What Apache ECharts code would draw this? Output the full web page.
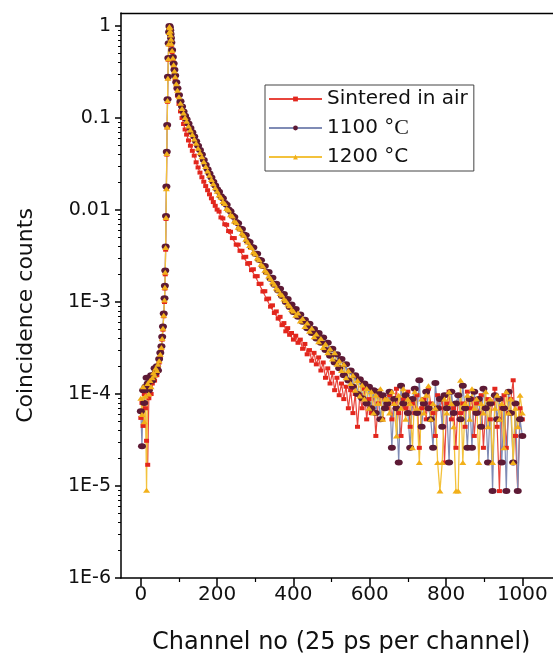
<!DOCTYPE html>
<html><head><meta charset="utf-8">
<script src="https://cdn.jsdelivr.net/npm/echarts@6/dist/echarts.min.js"></script>
<style>html,body{margin:0;padding:0;background:#fff;overflow:hidden}#c{width:553px;height:653px}</style>
</head><body><div id="c"></div>
<script>
// Channel numbers (x) shared by all three spectra
const channels = [0,3,6,9,12,15,18,21,24,27,30,33,36,39,42,45,48,51,54,56,58,60,62,63,
64,65,66,67,68,69,70,71,72,73,74,75,76,77,78,79,80,
82,84,86,88,90,93,96,100,104,108,112,116,120,125,130,135,140,145,150,155,160,165,170,175,180,185,190,195,200,
205,210,215,220,225,230,235,240,245,250,255,260,265,270,275,280,285,290,295,300,305,310,315,320,325,330,335,340,345,350,355,360,365,370,375,380,385,390,395,400,
406,412,418,424,430,436,442,448,454,460,466,472,478,484,490,496,502,508,514,520,526,532,538,544,550,556,562,568,574,580,586,592,598,604,610,616,622,628,634,640,
646,652,658,664,670,676,682,688,694,700,706,712,718,724,730,736,742,748,754,760,766,772,778,784,790,796,802,808,814,820,826,832,838,844,850,856,862,868,874,880,886,892,898,904,910,916,922,928,934,940,946,952,958,964,970,976,982,988,994,1000];

// Sintered in air
const sinteredInAir = [5.5e-5,8.0e-5,4.5e-5,1.0e-4,7.0e-5,3.1e-5,1.7e-5,9.0e-5,1.2e-4,1.0e-4,1.3e-4,1.5e-4,1.4e-4,1.7e-4,1.6e-4,1.9e-4,2.2e-4,2.6e-4,3.1e-4,3.9e-4,5.0e-4,7.0e-4,1.0e-3,1.4e-3,
2.0e-3,3.7e-3,8.0e-3,0.017,0.04,0.079,0.15,0.27,0.43,0.63,0.84,0.99,0.95,0.87,0.78,0.7,0.62,
0.52,0.43,0.36,0.3,0.255,0.21,0.175,0.142,0.118,0.1,0.086,0.075,0.066,0.057,0.05,0.044,0.039,0.033,0.029,0.0255,0.0227,0.0203,0.0182,0.0164,0.0148,0.0134,0.0122,0.0111,0.0101,
9.6e-3,8.3e-3,8.1e-3,7.0e-3,6.9e-3,5.9e-3,5.8e-3,4.95e-3,4.95e-3,4.2e-3,4.2e-3,3.6e-3,3.6e-3,3.05e-3,3.1e-3,2.6e-3,2.65e-3,2.22e-3,2.27e-3,1.9e-3,1.91e-3,1.57e-3,1.58e-3,1.3e-3,1.31e-3,1.07e-3,1.09e-3,8.9e-4,9.2e-4,7.6e-4,7.9e-4,6.6e-4,6.9e-4,5.6e-4,5.9e-4,4.8e-4,5.2e-4,4.4e-4,4.6e-4,3.9e-4,
4.3e-4,3.6e-4,3.9e-4,3.1e-4,3.5e-4,2.7e-4,3.0e-4,2.3e-4,2.8e-4,2.1e-4,2.5e-4,1.8e-4,2.2e-4,1.5e-4,1.9e-4,1.3e-4,1.7e-4,1.1e-4,1.5e-4,9.7e-5,1.3e-4,8.8e-5,1.2e-4,7.0e-5,1.1e-4,6.2e-5,1.0e-4,4.4e-5,9.7e-5,7.0e-5,1.14e-4,5.3e-5,8.8e-5,6.2e-5,1.06e-4,3.5e-5,7.9e-5,9.7e-5,5.3e-5,8.8e-5,
7.0e-5,9.7e-5,5.3e-5,7.9e-5,1.14e-4,6.2e-5,3.5e-5,8.8e-5,7.0e-5,1.06e-4,4.4e-5,7.9e-5,6.2e-5,9.7e-5,2.6e-5,7.0e-5,8.8e-5,5.3e-5,1.14e-4,7.9e-5,6.2e-5,3.5e-5,9.7e-5,7.0e-5,8.8e-5,1.8e-5,7.9e-5,1.06e-4,5.3e-5,7.0e-5,2.6e-5,9.7e-5,6.2e-5,7.9e-5,4.4e-5,1.06e-4,7.0e-5,8.8e-5,3.5e-5,7.9e-5,6.2e-5,9.7e-5,2.6e-5,7.0e-5,8.8e-5,5.3e-5,7.9e-5,1.14e-4,4.4e-5,8.8e-6,7.0e-5,9.7e-5,2.6e-5,6.2e-5,8.8e-5,1.41e-4,3.5e-5,8.8e-6,7.0e-5,5.3e-5];

// 1100 °C
const sample1100 = [6.5e-5,2.7e-5,1.1e-4,8.0e-5,1.2e-4,1.5e-4,1.3e-4,1.1e-4,1.5e-4,1.6e-4,1.4e-4,1.6e-4,1.9e-4,1.7e-4,2.0e-4,1.8e-4,2.4e-4,2.8e-4,3.3e-4,4.2e-4,5.4e-4,7.5e-4,1.1e-3,1.5e-3,
2.2e-3,4.0e-3,8.6e-3,0.018,0.043,0.084,0.16,0.28,0.45,0.65,0.86,1.0,0.97,0.9,0.82,0.74,0.66,
0.55,0.46,0.39,0.335,0.29,0.245,0.21,0.178,0.152,0.133,0.118,0.106,0.097,0.087,0.078,0.07,0.063,0.056,0.05,0.045,0.04,0.035,0.031,0.0278,0.025,0.0225,0.0203,0.0185,0.0168,
0.0158,0.0141,0.0134,0.0119,0.0114,0.0101,9.7e-3,8.7e-3,8.4e-3,7.4e-3,7.2e-3,6.3e-3,6.2e-3,5.4e-3,5.3e-3,4.6e-3,4.5e-3,3.95e-3,3.9e-3,3.35e-3,3.35e-3,2.88e-3,2.85e-3,2.46e-3,2.46e-3,2.1e-3,2.12e-3,1.79e-3,1.84e-3,1.54e-3,1.58e-3,1.33e-3,1.39e-3,1.16e-3,1.22e-3,1.0e-3,1.08e-3,8.8e-4,9.4e-4,7.8e-4,
8.4e-4,6.9e-4,7.3e-4,6.1e-4,6.4e-4,5.2e-4,5.8e-4,4.6e-4,5.1e-4,4.0e-4,4.6e-4,3.6e-4,4.1e-4,3.0e-4,3.6e-4,2.6e-4,3.1e-4,2.2e-4,2.7e-4,1.9e-4,2.4e-4,1.6e-4,2.1e-4,1.4e-4,1.8e-4,1.2e-4,1.6e-4,1.0e-4,1.45e-4,9.0e-5,1.3e-4,7.9e-5,1.2e-4,7.0e-5,1.1e-4,6.2e-5,1.06e-4,5.3e-5,9.7e-5,7.0e-5,
7.9e-5,1.06e-4,2.6e-5,8.8e-5,7.0e-5,1.8e-5,1.23e-4,7.9e-5,9.7e-5,6.2e-5,2.6e-5,8.8e-5,1.14e-4,6.2e-5,1.41e-4,4.4e-5,7.9e-5,1.06e-4,7.0e-5,5.3e-5,2.6e-5,1.32e-4,7.0e-5,8.8e-5,4.4e-5,9.7e-5,7.0e-5,1.8e-5,1.06e-4,6.2e-5,7.9e-5,9.7e-5,5.3e-5,1.23e-4,7.0e-5,2.6e-5,8.8e-5,2.6e-5,1.06e-4,6.2e-5,8.8e-5,4.4e-5,1.14e-4,7.0e-5,1.8e-5,7.9e-5,8.8e-6,9.7e-5,5.3e-5,8.8e-5,1.8e-5,7.0e-5,8.8e-6,1.06e-4,6.2e-5,1.8e-5,7.9e-5,8.8e-6,5.3e-5,3.5e-5];

// 1200 °C
const sample1200 = [9.0e-5,6.0e-5,1.2e-4,5.0e-5,9.5e-5,9.0e-6,1.3e-4,1.0e-4,1.4e-4,1.2e-4,1.5e-4,1.7e-4,1.6e-4,1.9e-4,1.8e-4,2.1e-4,2.3e-4,2.7e-4,3.2e-4,4.0e-4,5.2e-4,7.2e-4,1.05e-3,1.45e-3,
2.1e-3,3.9e-3,8.3e-3,0.017,0.041,0.08,0.155,0.27,0.44,0.64,0.85,0.99,0.96,0.88,0.8,0.72,0.64,
0.54,0.45,0.38,0.325,0.28,0.236,0.2,0.17,0.145,0.127,0.113,0.101,0.092,0.082,0.074,0.066,0.059,0.053,0.047,0.042,0.038,0.0335,0.0297,0.0265,0.0238,0.0214,0.0193,0.0175,0.016,
0.0146,0.0138,0.0124,0.0118,0.0104,0.0100,8.9e-3,8.6e-3,7.6e-3,7.3e-3,6.5e-3,6.2e-3,5.6e-3,5.3e-3,4.8e-3,4.5e-3,4.1e-3,3.9e-3,3.5e-3,3.35e-3,3.0e-3,2.88e-3,2.58e-3,2.46e-3,2.22e-3,2.1e-3,1.92e-3,1.8e-3,1.65e-3,1.56e-3,1.42e-3,1.35e-3,1.24e-3,1.19e-3,1.08e-3,1.04e-3,9.5e-4,9.1e-4,8.3e-4,8.0e-4,
7.2e-4,7.6e-4,6.2e-4,6.6e-4,5.4e-4,5.9e-4,4.8e-4,5.2e-4,4.2e-4,4.5e-4,3.7e-4,4.0e-4,3.2e-4,3.5e-4,2.8e-4,3.1e-4,2.4e-4,2.8e-4,2.1e-4,2.3e-4,1.8e-4,2.1e-4,1.5e-4,1.8e-4,1.3e-4,1.6e-4,1.1e-4,1.4e-4,9.5e-5,1.25e-4,8.8e-5,1.15e-4,7.0e-5,1.06e-4,6.2e-5,9.7e-5,7.9e-5,1.14e-4,5.3e-5,8.8e-5,
8.8e-5,6.2e-5,1.06e-4,7.9e-5,3.5e-5,9.7e-5,7.0e-5,1.14e-4,5.3e-5,8.8e-5,7.9e-5,2.6e-5,1.06e-4,7.0e-5,1.8e-5,8.8e-5,6.2e-5,9.7e-5,1.23e-4,5.3e-5,7.9e-5,7.0e-5,1.8e-5,8.8e-6,1.8e-5,8.8e-5,6.2e-5,1.06e-4,7.9e-5,4.4e-5,8.8e-6,8.8e-6,1.41e-4,1.8e-5,7.9e-5,9.7e-5,5.3e-5,1.14e-4,7.0e-5,8.8e-5,1.8e-5,7.9e-5,6.2e-5,1.06e-4,4.4e-5,8.8e-5,1.8e-5,7.0e-5,9.7e-5,5.3e-5,7.9e-5,2.6e-5,1.06e-4,6.2e-5,8.8e-5,1.8e-5,7.0e-5,4.4e-5,9.7e-5,6.2e-5];

const seriesNames = ['Sintered in air', '1100 °C', '1200 °C'];
const xTickValues = [0, 200, 400, 600, 800, 1000];
const xMinorTickValues = [100, 300, 500, 700, 900];
const yTickExponents = [-6, -5, -4, -3, -2, -1, 0];
const yTickLabels = ['1E-6', '1E-5', '1E-4', '1E-3', '0.01', '0.1', '1'];

// log-axis minor tick positions (2..9 within each decade)
const yMinorTicks = [];
for (let d = -6; d < 0; d++) for (let k = 2; k <= 9; k++) yMinorTicks.push(d + Math.log10(k));

const FONT = 'DejaVu Sans';
const toPts = vals => channels.map((c, i) => [c, Math.log10(vals[i])]);

const chart = echarts.init(document.getElementById('c'), null, {renderer: 'canvas'});
const Y_MIN = -6, Y_MAX = 0.1413, X_MIN = -52, X_MAX = 1180;

const axisLineStyle = {color: '#000', width: 1.5};
chart.setOption({
  animation: false,
  backgroundColor: '#fff',
  grid: {left: 121, top: 13, width: 470, height: 565, show: false,
    containLabel: false, outerBoundsMode: 'none'},
  legend: {
    orient: 'vertical', left: 265, top: 85,
    data: seriesNames,
    itemWidth: 53, itemHeight: 6, itemGap: 8,
    padding: [4, 6, 4, 3],
    borderColor: '#444', borderWidth: 1, backgroundColor: '#fff',
    textStyle: {fontFamily: FONT, fontSize: 20, color: '#111', lineHeight: 20,
      rich: {s: {fontFamily: 'Liberation Serif', fontSize: 22, color: '#111', lineHeight: 20}}},
    formatter: name => name === '1100 °C' ? '1100 °{s|C}' : name
  },
  xAxis: [{
    type: 'value', min: X_MIN, max: X_MAX, position: 'bottom',
    name: 'Channel no (25 ps per channel)', nameLocation: 'start', nameGap: 0,
    nameTextStyle: {fontFamily: FONT, fontSize: 24, color: '#111', align: 'left', verticalAlign: 'top', padding: [53, 0, 0, 31]},
    axisLine: {show: true, onZero: false, lineStyle: axisLineStyle},
    axisTick: {show: true, customValues: xTickValues, length: 8, lineStyle: {color: '#000', width: 1.5}},
    axisLabel: {customValues: xTickValues, margin: 7, fontFamily: FONT, fontSize: 20, color: '#111',
      formatter: v => String(v)},
    splitLine: {show: false}
  }, {
    type: 'value', min: X_MIN, max: X_MAX, position: 'bottom',
    axisLine: {show: false, onZero: false},
    axisTick: {show: true, customValues: xMinorTickValues, length: 4, lineStyle: {color: '#000', width: 1.2}},
    axisLabel: {show: false}, splitLine: {show: false}
  }, {
    type: 'value', min: X_MIN, max: X_MAX, position: 'top',
    axisLine: {show: true, onZero: false, lineStyle: {color: '#000', width: 1.3}},
    axisTick: {show: false}, axisLabel: {show: false}, splitLine: {show: false}
  }],
  yAxis: [{
    type: 'value', min: Y_MIN, max: Y_MAX, position: 'left',
    name: 'Coincidence counts', nameLocation: 'middle', nameGap: 84,
    nameTextStyle: {fontFamily: FONT, fontSize: 22, color: '#111', padding: [0, 40, 0, 0]},
    axisLine: {show: true, onZero: false, lineStyle: axisLineStyle},
    axisTick: {show: true, customValues: yTickExponents, length: 6, lineStyle: {color: '#000', width: 1.5}},
    axisLabel: {customValues: yTickExponents, margin: 10, fontFamily: FONT, fontSize: 19, color: '#111',
      formatter: v => yTickLabels[yTickExponents.indexOf(Math.round(v))]},
    splitLine: {show: false}
  }, {
    type: 'value', min: Y_MIN, max: Y_MAX, position: 'left',
    axisLine: {show: false, onZero: false},
    axisTick: {show: true, customValues: yMinorTicks, length: 3, lineStyle: {color: '#000', width: 1}},
    axisLabel: {show: false}, splitLine: {show: false}
  }],
  series: [{
    name: seriesNames[0], type: 'line', data: toPts(sinteredInAir),
    symbol: 'rect', symbolSize: [5, 4], showAllSymbol: true,
    itemStyle: {color: '#e2261d'}, lineStyle: {color: '#e8453c', width: 1.2}
  }, {
    name: seriesNames[1], type: 'line', data: toPts(sample1100),
    symbol: 'circle', symbolSize: [8, 6], showAllSymbol: true,
    itemStyle: {color: '#5d1a35'}, lineStyle: {color: '#7f8bb5', width: 1.2}
  }, {
    name: seriesNames[2], type: 'line', data: toPts(sample1200),
    symbol: 'triangle', symbolSize: [7, 5], showAllSymbol: true,
    itemStyle: {color: '#f2b01a'}, lineStyle: {color: '#f3c23c', width: 1.3}
  }]
});
</script></body></html>
